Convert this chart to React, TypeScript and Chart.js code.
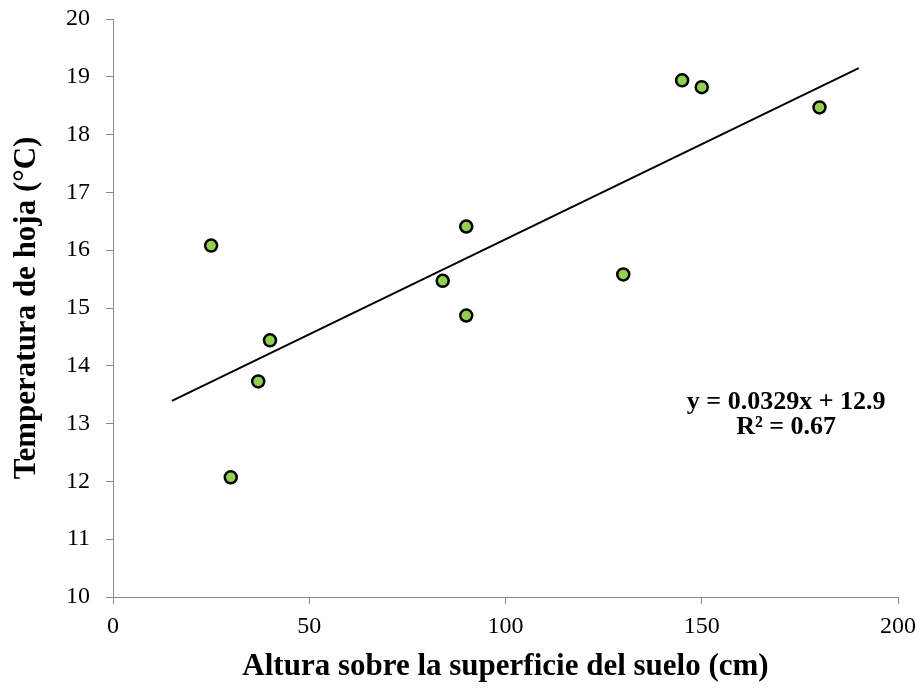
import React, { useEffect, useRef } from "react";
import { Chart, registerables } from "chart.js";

Chart.register(...registerables);

const heights = [25, 30, 37, 40, 84, 90, 90, 130, 145, 150, 180];
const leafTemps = [16.08, 12.07, 13.73, 14.44, 15.47, 16.41, 14.87, 15.58, 18.94, 18.82, 18.47];
const slope = 0.0329;
const intercept = 12.9;
const trendX = [15, 190];
const eqLabel = "y = 0.0329x + 12.9";
const r2Label = "R² = 0.67";
const xTitle = "Altura sobre la superficie del suelo (cm)";
const yTitle = "Temperatura de hoja (°C)";

const FONT = "'Liberation Serif', 'Times New Roman', serif";

export default function App() {
  const ref = useRef<HTMLCanvasElement>(null);
  useEffect(() => {
    if (!ref.current) return;
    const eqPlugin = {
      id: "eq",
      afterDatasetsDraw(chart: any) {
        const { ctx, scales } = chart;
        const x = scales.x.getPixelForValue(171.5);
        ctx.save();
        ctx.fillStyle = "#000";
        ctx.font = `bold 26px ${FONT}`;
        ctx.textAlign = "center";
        ctx.textBaseline = "middle";
        ctx.fillText(eqLabel, x, scales.y.getPixelForValue(13.37));
        ctx.fillText(r2Label, x, scales.y.getPixelForValue(12.94));
        ctx.restore();
      },
    };
    const chart = new Chart(ref.current, {
      type: "scatter",
      data: {
        datasets: [
          {
            label: "data",
            data: heights.map((h, i) => ({ x: h, y: leafTemps[i] })),
            backgroundColor: "#92D050",
            borderColor: "#000",
            borderWidth: 2.5,
            pointRadius: 6,
            order: 0,
          },
          {
            type: "line",
            label: "trend",
            data: trendX.map((x) => ({ x, y: slope * x + intercept })),
            borderColor: "#000",
            borderWidth: 2,
            pointRadius: 0,
            showLine: true,
            fill: false,
            order: 1,
          } as any,
        ],
      },
      plugins: [eqPlugin],
      options: {
        animation: false,
        responsive: true,
        maintainAspectRatio: false,
        layout: { padding: { top: 19, right: 23, left: 0, bottom: 0 } },
        plugins: { legend: { display: false }, tooltip: { enabled: false } },
        scales: {
          x: {
            type: "linear",
            min: 0,
            max: 200,
            ticks: { stepSize: 50, color: "#000", font: { family: FONT, size: 24 }, padding: 8 },
            grid: { drawOnChartArea: false, drawTicks: true, tickLength: 7, color: "#898989" },
            border: { color: "#898989", width: 1 },
            title: {
              display: true,
              text: xTitle,
              color: "#000",
              font: { family: FONT, size: 31, weight: "bold" },
              padding: { top: 4, bottom: 3 },
            },
            afterFit(scale: any) {
              scale.height = 92;
              scale.paddingLeft = 0;
              scale.paddingRight = 0;
            },
          },
          y: {
            type: "linear",
            min: 10,
            max: 20,
            ticks: { stepSize: 1, color: "#000", font: { family: FONT, size: 24 }, padding: 16 },
            grid: { drawOnChartArea: false, drawTicks: true, tickLength: 7, color: "#898989" },
            border: { color: "#898989", width: 1 },
            title: {
              display: true,
              text: yTitle,
              color: "#000",
              font: { family: FONT, size: 31, weight: "bold" },
              padding: { top: 8, bottom: 0 },
            },
            afterFit(scale: any) {
              scale.width = 113;
              scale.paddingTop = 0;
              scale.paddingBottom = 0;
            },
          },
        },
      },
    });
    return () => chart.destroy();
  }, []);
  return (
    <div style={{ position: "fixed", left: 0, top: 0, width: 921, height: 689, background: "#fff" }}>
      <canvas ref={ref} />
    </div>
  );
}
